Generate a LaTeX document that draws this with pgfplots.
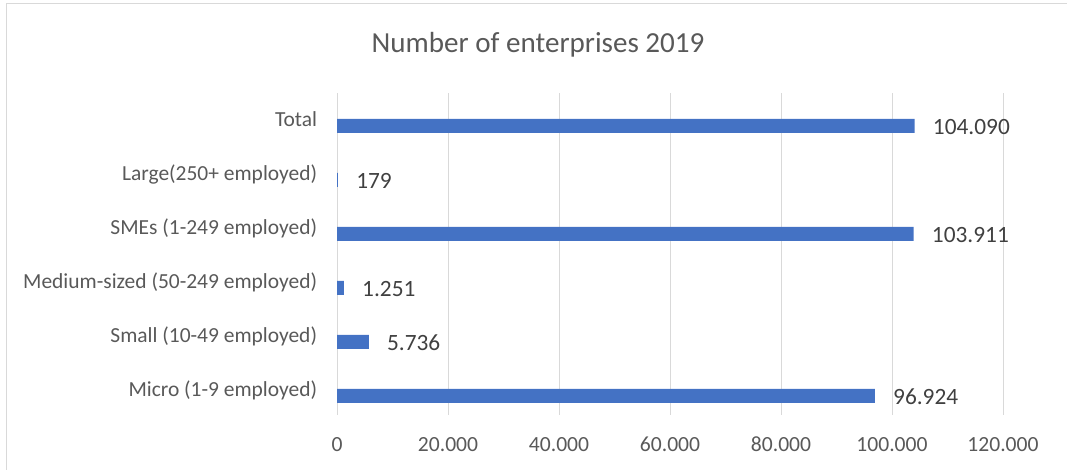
\documentclass[border=0pt]{standalone}
\usepackage{pgfplots}
\pgfplotsset{compat=1.18}
\usepackage{fontspec}
\setmainfont{Carlito}
\definecolor{barblue}{HTML}{4472C4}
\definecolor{txtgray}{HTML}{595959}
\definecolor{lblgray}{HTML}{404040}
\definecolor{gridgray}{HTML}{D9D9D9}
\begin{document}
\begin{tikzpicture}
\useasboundingbox (0,0) rectangle (800.25pt,352.5pt);
\draw[gridgray, line width=0.75pt] (800.25pt,349.5pt) -- (4.9pt,349.5pt) -- (4.9pt,0pt);
\node[anchor=base, font=\fontsize{21.8}{26}\selectfont, text=txtgray, inner sep=0] at (403.5pt,312.75pt) {Number of enterprises 2019};
\begin{axis}[
 at={(252.75pt,41.25pt)}, anchor=south west,
 scale only axis, width=499.5pt, height=241.5pt,
 xbar, bar width=10.5pt, bar shift=0pt,
 xmin=0, xmax=120000, ymin=-0.352, ymax=5.611,
 xtick={0,20000,40000,60000,80000,100000,120000},
 xticklabels={0,20.000,40.000,60.000,80.000,100.000,120.000},
 ytick={0,1,2,3,4,5},
 yticklabels={Micro (1-9 employed), Small (10-49 employed), Medium-sized (50-249 employed), SMEs (1-249 employed), Large(250+ employed), Total},
 xmajorgrids, grid style={gridgray, line width=0.75pt},
 axis line style={draw=none}, tick style={draw=none},
 xticklabel style={font=\fontsize{16.2}{19}\selectfont, text=txtgray, anchor=base, yshift=-27.75pt, inner sep=0},
 yticklabel style={font=\fontsize{16.1}{19}\selectfont, text=txtgray, anchor=base east, xshift=-10.5pt, yshift=-0.75pt, inner sep=0},
 nodes near coords={\pgfmathprintnumber[fixed, precision=0, 1000 sep={.}, assume math mode=true]{\pgfplotspointmeta}},
 nodes near coords style={font=\fontsize{17.5}{21}\selectfont, text=lblgray, anchor=base west, inner sep=0, xshift=13.5pt, yshift=-6.75pt},
]
\addplot[fill=barblue, draw=none] coordinates {(96924,0) (5736,1) (1251,2) (103911,3) (179,4) (104090,5)};
\end{axis}
\end{tikzpicture}
\end{document}
